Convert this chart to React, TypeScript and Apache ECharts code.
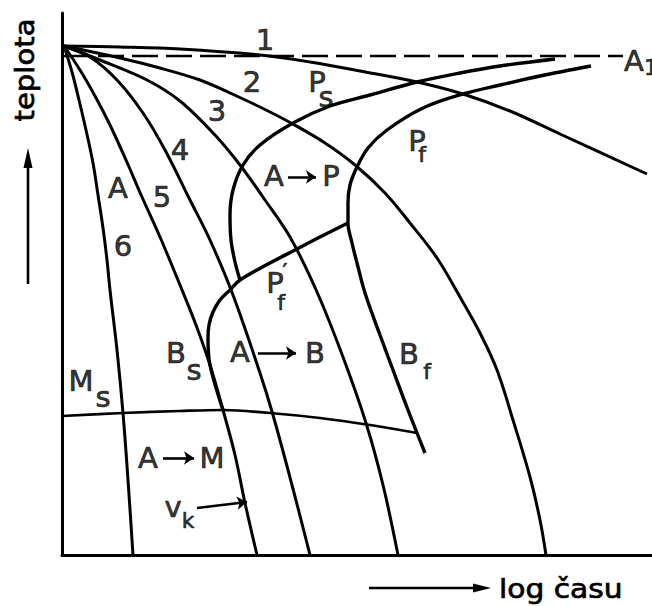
import React, { useEffect, useRef } from "react";
import * as echarts from "echarts";

// Units: x = log time (arbitrary), y = temperature (arbitrary).
const X_MAX = 590;
const Y_MAX = 542;

// Cooling curves 1..6, all leaving the austenitising temperature.
const curve1 = [[2, 509], [58, 508], [118, 506], [198, 500], [248, 493], [298, 484], [355, 473], [401, 461], [448, 444], [498, 421], [585, 381]];
const curve2 = [[2, 509], [58, 497], [98, 487], [138, 475], [168, 462], [198, 448], [229, 432], [263, 412], [293, 390], [323, 362], [348, 332], [375, 297], [398, 258], [418, 222], [435, 185], [451, 135], [468, 78], [478, 35], [484, 0]];
const curve3 = [[2, 509], [38, 495], [85, 475], [118, 454], [153, 420], [178, 390], [203, 355], [228, 318], [255, 263], [281, 198], [304, 132], [321, 70], [336, 0]];
const curve4 = [[2, 509], [28, 498], [55, 475], [81, 442], [103, 405], [128, 355], [148, 315], [171, 260], [198, 182], [211, 140], [230, 70], [248, 0]];
const curve5 = [[2, 509], [18, 485], [33, 459], [48, 430], [64, 395], [80, 358], [98, 318], [118, 270], [134, 230], [148, 190], [161, 145], [173, 100], [183, 52], [195, 0]];
const curve6 = [[2, 509], [10, 483], [17, 455], [24, 425], [31, 392], [36, 360], [41, 327], [45, 295], [48, 265], [55, 205], [61, 142], [66, 75], [71, 0]];

// Transformation boundaries.
const pearliteStart = [[493, 496], [438, 489], [398, 482], [355, 473], [308, 460], [268, 449], [231, 432], [198, 410], [181, 390], [171, 365], [168, 340], [169, 315], [173, 293], [178, 275]];
const pearliteFinishBainiteFinish = [[529, 489], [478, 479], [438, 470], [401, 461], [361, 447], [325, 425], [306, 407], [295, 388], [288, 370], [286, 352], [286, 332], [290, 312], [295, 292], [303, 262], [318, 220], [331, 185], [346, 145], [363, 102]];
const pearliteFinishPrimeBainiteStart = [[286, 332], [258, 318], [233, 305], [206, 291], [178, 275], [168, 265], [158, 255], [151, 243], [147, 230], [146, 217], [148, 190], [161, 145]];
const martensiteStart = [[0, 139], [61, 142], [118, 144], [161, 145], [208, 142], [258, 137], [308, 130], [355, 122]];
const a1Line = [[2, 499], [561, 499]];

// Region and curve annotations: text, x, y, kind.
const labels: [string, number, number, string][] = [
  ["1", 203, 515, "digit"], ["2", 190, 473, "digit"], ["3", 155, 444, "digit"],
  ["4", 118, 405, "digit"], ["5", 100, 358, "digit"], ["6", 61, 309, "digit"],
  ["A", 56, 367, "cap"],
  ["P", 255, 473, "cap"], ["s", 264, 458, "low"],
  ["P", 355, 414, "cap"], ["f", 360, 401, "sub"],
  ["A", 212, 379, "cap"], ["P", 269, 379, "cap"],
  ["P", 213, 272, "cap"], ["′", 223, 284, "sub"], ["f", 219, 253, "sub"],
  ["B", 114, 202, "cap"], ["s", 132, 185, "low"],
  ["A", 178, 203, "cap"], ["B", 253, 202, "cap"],
  ["M", 19, 174, "cap"], ["s", 41, 158, "low"],
  ["B", 347, 201, "cap"], ["f", 365, 184, "sub"],
  ["A", 86, 97, "cap"], ["M", 150, 97, "cap"],
  ["v", 111, 48, "low"], ["k", 126, 35, "sub"],
  ["A", 572, 494, "cap"], ["1", 589, 488, "sub"],
];

// Transformation arrows (A → P, A → B, A → M) and the v_k pointer.
const arrows = [
  [[226, 378], [254, 378]],
  [[196, 202], [234, 202]],
  [[101, 97], [132, 97]],
  [[135, 47], [185, 53]],
];

const FONT = '"DejaVu Sans", sans-serif';
const SIZE: Record<string, number> = { digit: 29, cap: 29, low: 29, sub: 22 };

function lineSeries(data: number[][], width: number) {
  return {
    type: "line",
    data,
    smooth: 0.35,
    symbol: "none",
    showSymbol: false,
    silent: true,
    lineStyle: { color: "#000", width },
  };
}

export default function App() {
  const ref = useRef<HTMLDivElement>(null);

  useEffect(() => {
    if (!ref.current) return;
    const chart = echarts.init(ref.current, null, { renderer: "svg" });
    const axisCommon = {
      type: "value",
      axisLine: { show: true, onZero: false, lineStyle: { color: "#000", width: 3 } },
      axisTick: { show: false },
      axisLabel: { show: false },
      splitLine: { show: false },
    };
    chart.setOption({
      animation: false,
      backgroundColor: "#fff",
      grid: { left: 62, right: 0, top: 13, bottom: 51 },
      xAxis: { ...axisCommon, min: 0, max: X_MAX },
      yAxis: { ...axisCommon, min: 0, max: Y_MAX },
      series: [
        {
          type: "line",
          data: a1Line,
          symbol: "none",
          silent: true,
          lineStyle: { color: "#000", width: 2.5, type: [26, 8] },
        },
        lineSeries(curve1, 3),
        lineSeries(curve2, 3),
        lineSeries(curve3, 3),
        lineSeries(curve4, 3),
        lineSeries(curve5, 3),
        lineSeries(curve6, 3),
        lineSeries(pearliteStart, 3.4),
        lineSeries(pearliteFinishBainiteFinish, 3.4),
        lineSeries(pearliteFinishPrimeBainiteStart, 3.4),
        lineSeries(martensiteStart, 2.7),
        {
          type: "lines",
          coordinateSystem: "cartesian2d",
          silent: true,
          symbol: ["none", "arrow"],
          symbolSize: 10,
          lineStyle: { color: "#000", width: 2.6, opacity: 1, curveness: 0 },
          data: arrows.map((coords) => ({ coords })),
        },
        {
          type: "scatter",
          symbolSize: 1,
          silent: true,
          clip: false,
          itemStyle: { color: "rgba(0,0,0,0)" },
          data: labels.map(([text, x, y, kind]) => ({
            name: text,
            value: [x, y],
            label: {
              show: true,
              position: "inside",
              formatter: text,
              fontFamily: FONT,
              fontSize: SIZE[kind],
              color: "#000",
              textBorderColor: "#000",
              textBorderWidth: 0.7,
            },
          })),
        },
      ],
      graphic: [
        {
          type: "text",
          x: 25,
          y: 70,
          rotation: Math.PI / 2,
          scaleX: 1.12,
          style: {
            text: "teplota", fontFamily: FONT, fontSize: 26, fill: "#000",
            stroke: "#000", lineWidth: 0.7, align: "center", verticalAlign: "middle",
          },
        },
        { type: "line", shape: { x1: 28, y1: 284, x2: 28, y2: 162 }, style: { stroke: "#000", lineWidth: 2.6 } },
        { type: "polygon", shape: { points: [[28, 148], [23.5, 168], [32.5, 168]] }, style: { fill: "#000" } },
        { type: "line", shape: { x1: 369, y1: 588, x2: 478, y2: 588 }, style: { stroke: "#000", lineWidth: 2.6 } },
        { type: "polygon", shape: { points: [[491, 588], [473, 583.5], [473, 592.5]] }, style: { fill: "#000" } },
        {
          type: "text",
          x: 499,
          y: 589,
          scaleX: 1.1,
          style: {
            text: "log času", fontFamily: FONT, fontSize: 27, fill: "#000",
            stroke: "#000", lineWidth: 0.7, align: "left", verticalAlign: "middle",
          },
        },
      ],
    });
    return () => chart.dispose();
  }, []);

  return (
    <div style={{ position: "fixed", left: 0, top: 0, width: 652, height: 606, background: "#fff" }}>
      <div ref={ref} style={{ width: 652, height: 606 }} />
    </div>
  );
}
